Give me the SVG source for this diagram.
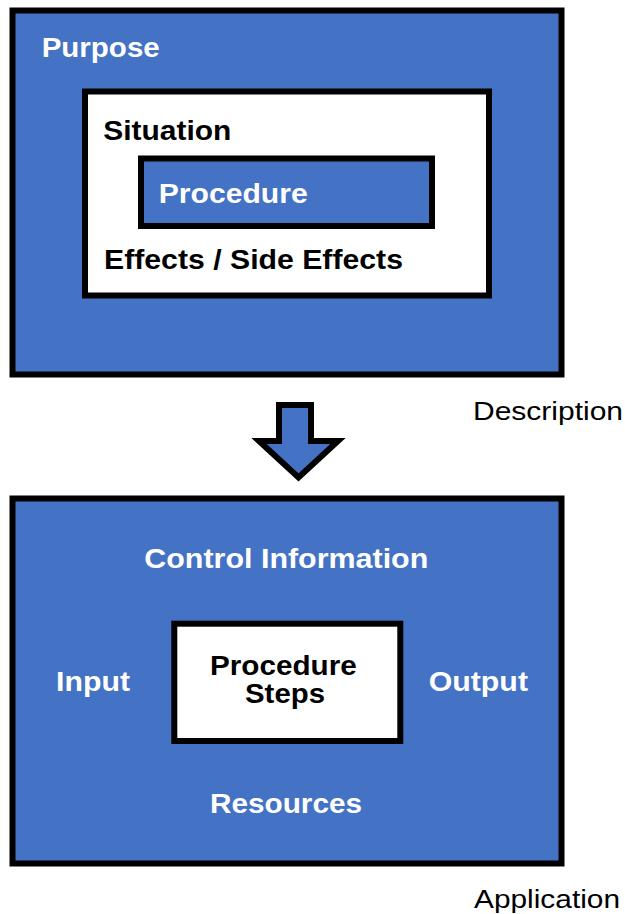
<svg xmlns="http://www.w3.org/2000/svg" width="625" height="914" viewBox="0 0 625 914">
<style>
.blue{fill:#4472C4;stroke:#000;stroke-width:6}
.white{fill:#fff;stroke:#000;stroke-width:6}
.tb{font-family:"Liberation Sans",Arial,sans-serif;font-weight:bold;font-size:27px}
.tr{font-family:"Liberation Sans",Arial,sans-serif;font-size:26.5px;fill:#000}
.w{fill:#fff}
.k{fill:#000}
</style>
<rect width="625" height="914" fill="#fff"/>
<g id="purpose">
<rect class="blue" x="12.5" y="10.5" width="549" height="364"/>
<text class="tb w" x="41.7" y="56.7" textLength="118" lengthAdjust="spacingAndGlyphs">Purpose</text>
</g>
<g id="situation">
<rect class="white" x="85" y="91.5" width="404" height="204"/>
<text class="tb k" x="103.3" y="139.7" textLength="128" lengthAdjust="spacingAndGlyphs">Situation</text>
<text class="tb k" x="104" y="269.3" textLength="299" lengthAdjust="spacingAndGlyphs">Effects / Side Effects</text>
</g>
<g id="procedure">
<rect class="blue" x="141" y="158.5" width="291" height="67.5"/>
<text class="tb w" x="158.7" y="202.7" textLength="149" lengthAdjust="spacingAndGlyphs">Procedure</text>
</g>
<g id="connectors">
<polygon class="blue" stroke-linejoin="miter" points="279,405 311,405 311,441 338,441 298.5,477.5 259,441 279,441"/>
</g>
<g id="description-label">
<text class="tr" x="473" y="420" textLength="150" lengthAdjust="spacingAndGlyphs">Description</text>
</g>
<g id="application">
<rect class="blue" x="12.5" y="498.5" width="549" height="365"/>
<text class="tb w" x="144.3" y="567.7" textLength="284" lengthAdjust="spacingAndGlyphs">Control Information</text>
<text class="tb w" x="56" y="691" textLength="74" lengthAdjust="spacingAndGlyphs">Input</text>
<text class="tb w" x="428.7" y="690.7" textLength="99.3" lengthAdjust="spacingAndGlyphs">Output</text>
<text class="tb w" x="210" y="813.3" textLength="152" lengthAdjust="spacingAndGlyphs">Resources</text>
</g>
<g id="procedure-steps">
<rect class="white" x="174.3" y="623.7" width="226" height="117.3"/>
<text class="tb k" x="210" y="675" textLength="146.7" lengthAdjust="spacingAndGlyphs">Procedure</text>
<text class="tb k" x="245" y="703" textLength="80" lengthAdjust="spacingAndGlyphs">Steps</text>
</g>
<g id="application-label">
<text class="tr" x="474" y="908.3" textLength="146" lengthAdjust="spacingAndGlyphs">Application</text>
</g>
</svg>
